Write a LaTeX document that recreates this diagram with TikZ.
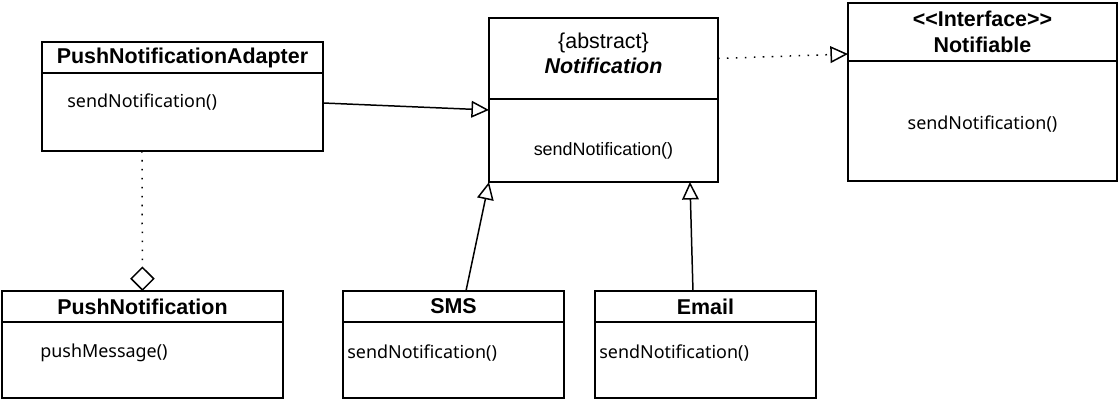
\documentclass[tikz,border=0pt]{standalone}
\usepackage{fontspec}
\setmainfont{Liberation Sans}
\newfontfamily\opsfont{Noto Sans}
\usetikzlibrary{arrows.meta,positioning}
\tikzset{
    umlHead/.style={
        rectangle,
        draw,
        line width=0.85pt,
        outer sep=0pt,
        inner sep=2pt,
        anchor=north west,
        minimum height=0.62cm,
        minimum width=#1,
        align=center,
        font=\fontsize{12.2}{14.7}\selectfont\bfseries
    },
    umlBody/.style={
        rectangle,
        draw,
        line width=0.85pt,
        outer sep=0pt,
        minimum height=1.52cm,
        minimum width=#1
    },
    umlOp/.style={inner sep=0pt, font=\opsfont\fontsize{10.2}{12}\selectfont},
    % Connectors
    umlInherit/.style={-{Triangle[open, length=10pt, width=9.5pt]}, line width=0.85pt},
    umlRealize/.style={umlInherit, dash pattern=on 0.9pt off 4.2pt},
    umlAggregate/.style={-{Diamond[open, length=14pt, width=14pt]}, line width=0.85pt, dash pattern=on 0.9pt off 4.2pt}
}
\begin{document}
\begin{tikzpicture}[x=0.02cm, y=-0.02cm]
\useasboundingbox (0,0) rectangle (1120,400);

% top row
\node[umlHead=5.62cm] (adHead) at (42,42) {PushNotificationAdapter};
\node[umlBody=5.62cm, minimum height=1.56cm, below=0pt of adHead] (adBody) {};
\node[umlOp, anchor=west] (adOp) at ([xshift=0.5cm, yshift=-0.58cm]adBody.north west) {sendNotification()};

\node[umlHead=4.58cm, minimum height=1.62cm, text depth=6pt] (notHead) at (489,18) {{\mdseries\{abstract\}}\\\textit{Notification}};
\node[umlBody=4.58cm, minimum height=1.66cm, below=0pt of notHead] (notBody) {};
\node[umlOp, font=\fontsize{10.2}{12}\selectfont] (notOp) at ([yshift=-0.2cm]notBody.center) {sendNotification()};

\node[umlHead=5.38cm, minimum height=1.16cm] (ifHead) at (848,3) {<{}<Interface>{}>\\Notifiable};
\node[umlBody=5.38cm, minimum height=2.4cm, below=0pt of ifHead] (ifBody) {};
\node[umlOp] (ifOp) at ([yshift=-0.06cm]ifBody.center) {sendNotification()};

% bottom row
\node[umlHead=5.62cm] (pnHead) at (2,291) {PushNotification};
\node[umlBody=5.62cm, below=0pt of pnHead] (pnBody) {};
\node[umlOp, anchor=west] (pnOp) at ([xshift=0.76cm, yshift=-0.62cm]pnBody.north west) {pushMessage()};

\node[umlHead=4.42cm] (smsHead) at (343,291) {SMS};
\node[umlBody=4.42cm, below=0pt of smsHead] (smsBody) {};
\node[umlOp, anchor=west] (smsOp) at ([xshift=0.08cm, yshift=-0.62cm]smsBody.north west) {sendNotification()};

\node[umlHead=4.42cm] (emHead) at (595,291) {Email};
\node[umlBody=4.42cm, below=0pt of emHead] (emBody) {};
\node[umlOp, anchor=west] (emOp) at ([xshift=0.08cm, yshift=-0.62cm]emBody.north west) {sendNotification()};

% relations
\draw[umlInherit] ([yshift=0.18cm]adBody.east) -- ([yshift=-0.22cm]notBody.north west);
\draw[umlRealize] (notHead.east) -- ([yshift=0.14cm]ifBody.north west);
\draw[umlInherit] ([xshift=0.25cm]smsHead.north) -- (notBody.south west);
\draw[umlInherit] ([xshift=-0.25cm]emHead.north) -- ([xshift=-0.56cm]notBody.south east);
\draw[umlAggregate] ([xshift=-0.81cm]adBody.south) -- (pnHead.north);
\end{tikzpicture}
\end{document}
